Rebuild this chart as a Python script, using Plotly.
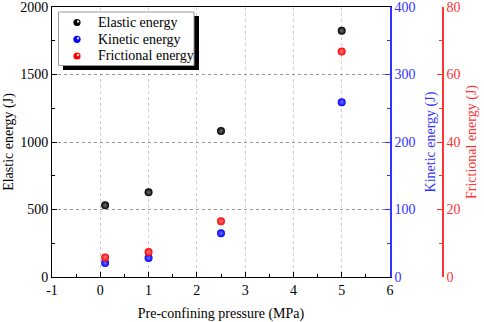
import plotly.graph_objects as go

pressure = [0.1, 1, 2.5, 5]
elastic = [531, 627, 1081, 1824]
kinetic = [20.7, 28.1, 64.7, 259]
frictional = [5.8, 7.4, 16.5, 66.8]
series_names = ["Elastic energy", "Kinetic energy", "Frictional energy"]
series_colors = ["#000000", "#0000FF", "#FF0000"]
highlight_colors = ["#707070", "#7070FF", "#FF8080"]
x_tick_vals = [-1, 0, 1, 2, 3, 4, 5, 6]
x_tick_text = ["-1", "0", "1", "2", "3", "4", "5", "6"]

FONT = "Liberation Serif, Times New Roman, serif"
BLUE = "#3333FF"
RED = "#FF3333"

L, R, T, B = 52, 2, 7, 45
W, H = 484, 322
pw = W - L - R
ph = H - T - B
def px(x):
    return (x - L) / pw
def py(y):
    return (H - B - y) / ph

def f(size=14, color="black"):
    return dict(family=FONT, size=size, color=color)

fig = go.Figure()
for vals, name, col, hc, ax in zip([elastic, kinetic, frictional], series_names,
                                   series_colors, highlight_colors, ["y", "y2", "y3"]):
    fig.add_trace(go.Scatter(x=pressure, y=vals, mode="markers", name=name,
                             marker=dict(color=col, size=8, line=dict(width=0),
                                         gradient=dict(type="radial", color=hc)),
                             yaxis=ax, showlegend=False))

xd = px(390)
common = dict(automargin=False, ticklabeloverflow="allow", zeroline=False)
fig.update_layout(
    template="none",
    width=W, height=H, margin=dict(l=L, r=R, t=T, b=B, autoexpand=False),
    paper_bgcolor="white", plot_bgcolor="white",
    font=f(),
    showlegend=False,
    xaxis=dict(domain=[0, xd], range=[-1, 6], tickmode="array",
               tickvals=x_tick_vals, ticktext=x_tick_text, **common,
               showline=True, linecolor="black", linewidth=1, mirror=True,
               ticks="inside", ticklen=5, tickcolor="black", tickfont=f(),
               minor=dict(tickmode="linear", tick0=-1, dtick=0.5, ticks="inside", ticklen=3,
                          tickcolor="black", showgrid=False),
               showgrid=True, gridcolor="#CCCCCC", griddash="dot", gridwidth=1,
               title=dict(text="Pre-confining pressure (MPa)", standoff=11, font=f())),
    yaxis=dict(range=[0, 2000], tick0=0, dtick=500, **common,
               showline=True, linecolor="black", linewidth=1,
               ticks="inside", ticklen=5, tickcolor="black", tickfont=f(),
               minor=dict(dtick=250, ticks="inside", ticklen=3, tickcolor="black", showgrid=False),
               showgrid=True, gridcolor="#999999", griddash="dot", gridwidth=1,
               title=dict(text="Elastic energy (J)", standoff=3, font=f())),
    yaxis2=dict(range=[0, 400], tick0=0, dtick=100, overlaying="y", side="right", anchor="x",
                **common,
                showline=True, linecolor=BLUE, linewidth=1.5,
                ticks="inside", ticklen=5, tickcolor=BLUE,
                minor=dict(dtick=50, ticks="inside", ticklen=3, tickcolor=BLUE, showgrid=False),
                showgrid=False,
                tickfont=f(14, BLUE),
                title=dict(text="Kinetic energy (J)", font=f(14, BLUE), standoff=11)),
    yaxis3=dict(range=[0, 80], tick0=0, dtick=20, overlaying="y", side="right", anchor="free",
                position=px(443), **common,
                showline=True, linecolor=RED, linewidth=1.5,
                ticks="inside", ticklen=5, tickcolor=RED,
                minor=dict(dtick=10, ticks="inside", ticklen=3, tickcolor=RED, showgrid=False),
                showgrid=False,
                tickfont=f(14, RED),
                title=dict(text="Frictional energy (J)", font=f(14, RED), standoff=6)),
)

# legend box with drop shadow
fig.add_shape(type="rect", xref="paper", yref="paper",
              x0=px(63), x1=px(199), y0=py(70), y1=py(16),
              fillcolor="black", line=dict(width=0), layer="above")
fig.add_shape(type="rect", xref="paper", yref="paper",
              x0=px(58.5), x1=px(194), y0=py(65.5), y1=py(12),
              fillcolor="white", line=dict(color="#999999", width=1), layer="above")
row_y = [22.5, 39.3, 56]
for name, col, yy in zip(series_names, series_colors, row_y):
    fig.add_shape(type="circle", xref="paper", yref="paper",
                  xsizemode="pixel", ysizemode="pixel",
                  xanchor=px(77), yanchor=py(yy), x0=-3.6, x1=3.6, y0=-3.6, y1=3.6,
                  fillcolor=col, line=dict(width=0), layer="above")
    fig.add_shape(type="circle", xref="paper", yref="paper",
                  xsizemode="pixel", ysizemode="pixel",
                  xanchor=px(78), yanchor=py(yy - 1), x0=-1.2, x1=1.2, y0=-1.2, y1=1.2,
                  fillcolor="white", opacity=0.85, line=dict(width=0), layer="above")
    fig.add_annotation(xref="paper", yref="paper", x=px(96), y=py(yy),
                       xanchor="left", yanchor="middle", showarrow=False,
                       text=name, font=f(14))

fig.write_html("out.html", config={"displayModeBar": False},
               post_script="document.body.style.margin='0';document.body.style.padding='0';")
